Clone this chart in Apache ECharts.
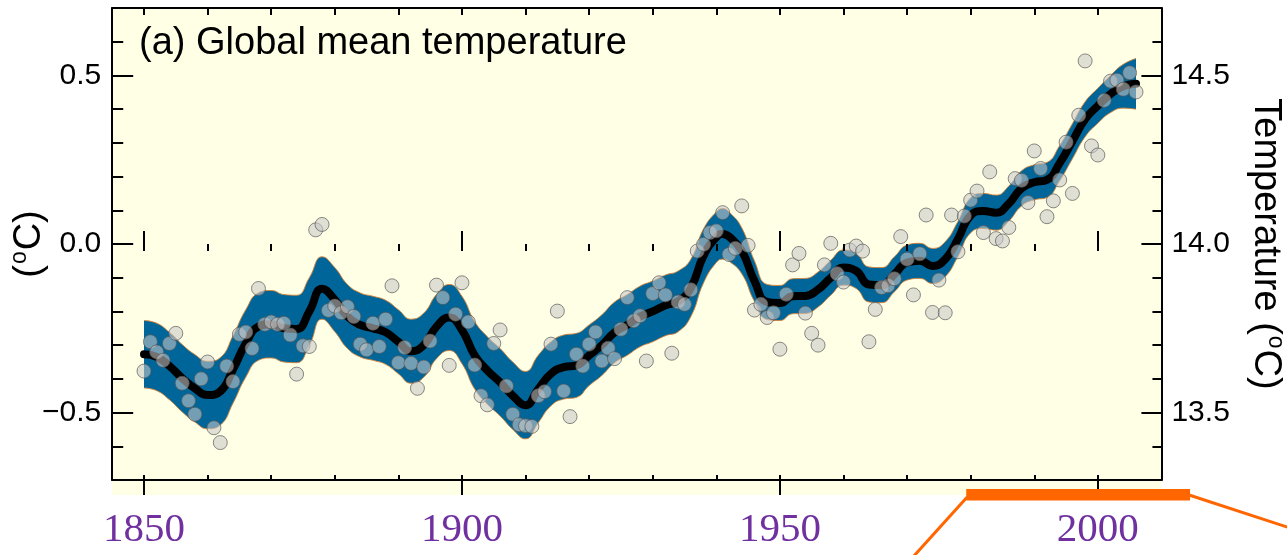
<!DOCTYPE html>
<html>
<head>
<meta charset="utf-8">
<script src="https://cdn.jsdelivr.net/npm/echarts@6/dist/echarts.min.js"></script>
<style>
  html, body { margin: 0; padding: 0; background: #ffffff; }
  #chart { width: 1287px; height: 555px; }
</style>
</head>
<body>
<div id="chart"></div>
<script>
// Annual global mean temperature anomalies (°C), one value per year from 1850
const annualYearStart = 1850;
const annualAnomaly = [
  -0.377, -0.29, -0.32, -0.345, -0.295, -0.265, -0.413, -0.465, -0.505, -0.40,
  -0.35, -0.545, -0.589, -0.362, -0.408, -0.268, -0.261, -0.31, -0.132, -0.238,
  -0.231, -0.238, -0.235, -0.27, -0.386, -0.302, -0.304, 0.042, 0.058, -0.197,
  -0.184, -0.204, -0.186, -0.215, -0.297, -0.314, -0.235, -0.304, -0.223, -0.124,
  -0.352, -0.307, -0.354, -0.428, -0.365, -0.288, -0.122, -0.159, -0.36, -0.208,
  -0.115, -0.231, -0.359, -0.45, -0.477, -0.295, -0.255, -0.421, -0.505, -0.536,
  -0.539, -0.541, -0.45, -0.438, -0.297, -0.199, -0.436, -0.512, -0.327, -0.362,
  -0.297, -0.261, -0.347, -0.309, -0.34, -0.253, -0.159, -0.228, -0.213, -0.347,
  -0.147, -0.115, -0.151, -0.324, -0.172, -0.179, -0.136, -0.021, -0.001, 0.034,
  0.039, 0.093, -0.031, -0.013, 0.113, -0.004, -0.196, -0.179, -0.218, -0.204,
  -0.312, -0.149, -0.062, -0.028, -0.205, -0.265, -0.30, -0.062, 0.002, -0.088,
  -0.113, -0.018, -0.006, -0.021, -0.29, -0.194, -0.129, -0.124, -0.103, 0.022,
  -0.045, -0.151, -0.029, 0.086, -0.203, -0.107, -0.204, 0.086, -0.023, 0.083,
  0.13, 0.157, 0.034, 0.214, 0.016, 0.009, 0.049, 0.194, 0.189, 0.123,
  0.276, 0.224, 0.081, 0.128, 0.19, 0.302, 0.15, 0.382, 0.543, 0.291,
  0.264, 0.426, 0.483, 0.486, 0.459, 0.508, 0.451
];

// Smoothed decadal curve and its uncertainty band
const curveYears = [
  1850, 1852, 1854, 1856, 1858, 1860, 1862, 1864, 1866, 1868,
  1870, 1872, 1874, 1876, 1878, 1880, 1882, 1884, 1886, 1888,
  1890, 1892, 1894, 1896, 1898, 1900, 1902, 1904, 1906, 1908,
  1910, 1912, 1914, 1916, 1918, 1920, 1922, 1924, 1926, 1928,
  1930, 1932, 1934, 1936, 1938, 1940, 1941, 1942, 1944, 1946, 1948,
  1950, 1952, 1954, 1956, 1958, 1960, 1962, 1964, 1966, 1968,
  1970, 1972, 1974, 1976, 1978, 1980, 1982, 1984, 1986, 1988,
  1990, 1992, 1994, 1996, 1998, 2000, 2002, 2004, 2006
];
const curveMid = [
  -0.327, -0.335, -0.362, -0.398, -0.428, -0.448, -0.437, -0.372, -0.295, -0.245,
  -0.238, -0.25, -0.252, -0.2, -0.133, -0.165, -0.215, -0.24, -0.25, -0.262,
  -0.29, -0.318, -0.3, -0.245, -0.218, -0.255, -0.33, -0.375, -0.41, -0.45,
  -0.478, -0.43, -0.385, -0.365, -0.36, -0.33, -0.3, -0.262, -0.24, -0.215,
  -0.2, -0.182, -0.17, -0.13, -0.035, 0.02, 0.03, 0.022, -0.02, -0.11, -0.172,
  -0.175, -0.155, -0.154, -0.135, -0.1, -0.07, -0.08, -0.12, -0.122, -0.09,
  -0.055, -0.05, -0.065, -0.045, 0.015, 0.085, 0.098, 0.093, 0.12, 0.165,
  0.183, 0.19, 0.24, 0.305, 0.37, 0.41, 0.445, 0.468, 0.475
];
const bandUpper = [
  -0.227, -0.235, -0.262, -0.298, -0.328, -0.348, -0.337, -0.272, -0.195, -0.145,
  -0.138, -0.15, -0.152, -0.1, -0.038, -0.07, -0.12, -0.145, -0.155, -0.167,
  -0.195, -0.223, -0.205, -0.15, -0.12, -0.155, -0.23, -0.275, -0.31, -0.35,
  -0.378, -0.33, -0.29, -0.27, -0.265, -0.24, -0.21, -0.172, -0.15, -0.125,
  -0.11, -0.092, -0.08, -0.045, 0.045, 0.095, 0.105, 0.095, 0.048, -0.05, -0.12,
  -0.123, -0.103, -0.102, -0.083, -0.048, -0.018, -0.028, -0.068, -0.07, -0.038,
  -0.003, 0.002, -0.013, 0.007, 0.067, 0.137, 0.15, 0.145, 0.172, 0.217,
  0.235, 0.242, 0.292, 0.357, 0.422, 0.462, 0.5, 0.533, 0.55
];
const bandLower = [
  -0.427, -0.435, -0.462, -0.498, -0.528, -0.548, -0.537, -0.472, -0.395, -0.345,
  -0.338, -0.35, -0.352, -0.3, -0.223, -0.26, -0.31, -0.335, -0.345, -0.357,
  -0.385, -0.413, -0.395, -0.34, -0.316, -0.355, -0.43, -0.475, -0.51, -0.55,
  -0.578, -0.53, -0.48, -0.46, -0.455, -0.42, -0.39, -0.352, -0.33, -0.305,
  -0.29, -0.272, -0.26, -0.215, -0.115, -0.055, -0.045, -0.051, -0.088, -0.17, -0.224,
  -0.227, -0.207, -0.206, -0.187, -0.152, -0.122, -0.132, -0.172, -0.174, -0.142,
  -0.107, -0.102, -0.117, -0.097, -0.037, 0.033, 0.046, 0.041, 0.068, 0.113,
  0.131, 0.138, 0.188, 0.253, 0.318, 0.358, 0.39, 0.403, 0.4
];

// Axis tick positions and labels
const yearMinorTicks = [1850, 1860, 1870, 1880, 1890, 1900, 1910, 1920, 1930, 1940, 1950, 1960, 1970, 1980, 1990, 2000];
const yearLabels = [1850, 1900, 1950, 2000];
const anomalyLabels = [-0.5, 0, 0.5];
const absoluteLabels = [13.5, 14.0, 14.5];
const highlightSpan = [1979.3, 2014.5];

const titleText = '(a) Global mean temperature';

const SANS = '"Liberation Sans", Arial, Helvetica, sans-serif';
const SERIF = '"Liberation Serif", "Times New Roman", serif';
const X_MIN = 1845, X_MAX = 2010;
const Y_MIN = -0.7, Y_MAX = 0.7;
const ABS_OFFSET = 14.0;

// grid box chosen so the band's first and last years sit on whole pixels
const GRID_LEFT = 112.206, GRID_WIDTH = 1049.23;

const BG = '#FFFFE6';
const BAND = '#00669A';
const EDGE = 'rgba(214,128,52,0.9)';
const ORANGE = '#FF6600';
const PURPLE = '#7030A0';

const annualPoints = annualAnomaly.map((v, i) => [annualYearStart + i, v]);
const midPoints = curveYears.map((y, i) => [y, curveMid[i]]);
const upperPoints = curveYears.map((y, i) => [y, bandUpper[i]]);
const lowerPoints = curveYears.map((y, i) => [y, bandLower[i]]);

const supRich = {
  sup: { fontSize: 23, fontFamily: SANS, color: '#000', verticalAlign: 'top', lineHeight: 42, padding: [0, 1, 14, 1] }
};

function xAxisLayer(extra) {
  return Object.assign({
    type: 'value', min: X_MIN, max: X_MAX, position: 'bottom', z: 10,
    splitLine: { show: false },
    axisLine: { show: false },
    axisLabel: { show: false },
    axisTick: { show: false }
  }, extra);
}
function yAxisLayer(extra) {
  return Object.assign({
    type: 'value', min: Y_MIN, max: Y_MAX, position: 'left', z: 10,
    splitLine: { show: false },
    axisLine: { show: false },
    axisLabel: { show: false },
    axisTick: { show: false }
  }, extra);
}
const tickLine = { color: '#000', width: 2 };
const axisLine = { show: true, onZero: false, lineStyle: { color: '#000', width: 2 } };

const chart = echarts.init(document.getElementById('chart'), null, { renderer: 'canvas' });

const option = {
  animation: false,
  backgroundColor: '#ffffff',
  title: {
    text: titleText,
    left: 139, top: 25, padding: 0,
    textStyle: { fontFamily: SANS, fontSize: 38, fontWeight: 'normal', color: '#000' }
  },
  grid: {
    left: GRID_LEFT, right: 1287 - GRID_LEFT - GRID_WIDTH, top: 8, bottom: 75,
    containLabel: false, outerBoundsMode: 'none'
  },
  xAxis: [
    xAxisLayer({
      axisLine: axisLine,
      axisTick: { show: true, inside: true, length: 5, lineStyle: tickLine, customValues: yearMinorTicks },
      axisLabel: {
        show: true, customValues: yearLabels, margin: 30,
        fontFamily: SERIF, fontSize: 41, color: PURPLE,
        formatter: v => String(v)
      }
    }),
    xAxisLayer({ axisTick: { show: true, inside: false, length: 7, lineStyle: tickLine, customValues: yearMinorTicks } }),
    xAxisLayer({ axisTick: { show: true, inside: true, length: 13, lineStyle: tickLine, customValues: yearLabels } }),
    xAxisLayer({ axisTick: { show: true, inside: false, length: 15, lineStyle: tickLine, customValues: yearLabels } }),
    xAxisLayer({
      position: 'top',
      axisLine: axisLine,
      axisTick: { show: true, inside: true, length: 7, lineStyle: tickLine, customValues: yearMinorTicks }
    })
  ],
  yAxis: [
    yAxisLayer({
      interval: 0.1,
      axisLine: axisLine,
      axisTick: { show: true, inside: true, length: 11, lineStyle: tickLine }
    }),
    yAxisLayer({
      axisTick: { show: true, inside: true, length: 21, lineStyle: tickLine, customValues: anomalyLabels },
      axisLabel: {
        show: true, customValues: anomalyLabels, margin: 11,
        fontFamily: SANS, fontSize: 30, color: '#000',
        formatter: v => (v < 0 ? '\u2212' : '') + Math.abs(v).toFixed(1)
      },
      name: '({sup|o}C)',
      nameLocation: 'middle', nameRotate: 90, nameGap: 62, nameMoveOverlap: false,
      nameTextStyle: { fontFamily: SANS, fontSize: 38, color: '#000', lineHeight: 42, rich: supRich }
    }),
    yAxisLayer({
      position: 'right', min: Y_MIN + ABS_OFFSET, max: Y_MAX + ABS_OFFSET, interval: 0.1,
      axisLine: axisLine,
      axisTick: { show: true, inside: true, length: 9, lineStyle: tickLine }
    }),
    yAxisLayer({
      position: 'right', min: Y_MIN + ABS_OFFSET, max: Y_MAX + ABS_OFFSET,
      axisTick: { show: true, inside: true, length: 20, lineStyle: tickLine, customValues: absoluteLabels },
      axisLabel: {
        show: true, customValues: absoluteLabels, margin: 10,
        fontFamily: SANS, fontSize: 30, color: '#000',
        formatter: v => v.toFixed(1)
      },
      name: 'Temperature ({sup|o}C)',
      nameLocation: 'middle', nameRotate: -90, nameGap: 83, nameMoveOverlap: false,
      nameTextStyle: { fontFamily: SANS, fontSize: 38, color: '#000', lineHeight: 42, rich: supRich }
    })
  ],
  series: [
    {
      // blue fill from the upper band edge down to the axis
      name: 'band-upper', type: 'line', data: upperPoints, smooth: true, symbol: 'none', z: 2,
      lineStyle: { color: EDGE, width: 1 },
      areaStyle: { color: BAND, opacity: 1, origin: 'start' }
    },
    {
      // panel colour restored below the lower band edge
      name: 'band-lower', type: 'line', data: lowerPoints, smooth: true, symbol: 'none', z: 2.5,
      lineStyle: { color: EDGE, width: 1 },
      areaStyle: { color: BG, opacity: 1, origin: 'start' }
    },
    {
      name: 'smoothed', type: 'line', data: midPoints, smooth: true, symbol: 'none', z: 3,
      lineStyle: { color: '#000', width: 8, cap: 'round' }
    },
    {
      name: 'annual', type: 'scatter', data: annualPoints, symbol: 'circle', symbolSize: 14, z: 4,
      itemStyle: { color: 'rgba(200,200,200,0.72)', borderColor: 'rgba(85,85,85,0.85)', borderWidth: 1 }
    }
  ]
};
chart.setOption(option);

// Plot panel background and the highlighted recent period below the year axis
const xPix = v => chart.convertToPixel({ xAxisIndex: 0 }, v);
const yTop = chart.convertToPixel({ yAxisIndex: 0 }, Y_MAX);
const xLeft = xPix(X_MIN), xRight = xPix(X_MAX);
const spanL = xPix(highlightSpan[0]), spanR = xPix(highlightSpan[1]);
chart.setOption({
  graphic: [
    { type: 'rect', z: -10, silent: true,
      shape: { x: xLeft, y: yTop, width: xRight - xLeft, height: 495 - yTop },
      style: { fill: BG } },
    { type: 'rect', z: 100, silent: true,
      shape: { x: spanL, y: 489, width: spanR - spanL, height: 11.5 },
      style: { fill: ORANGE } },
    { type: 'line', z: 100, silent: true,
      shape: { x1: spanL + 1, y1: 497, x2: 913, y2: 557 },
      style: { stroke: ORANGE, lineWidth: 3 } },
    { type: 'line', z: 100, silent: true,
      shape: { x1: spanR - 1, y1: 495, x2: 1290, y2: 528 },
      style: { stroke: ORANGE, lineWidth: 3 } }
  ]
});
</script>
</body>
</html>
